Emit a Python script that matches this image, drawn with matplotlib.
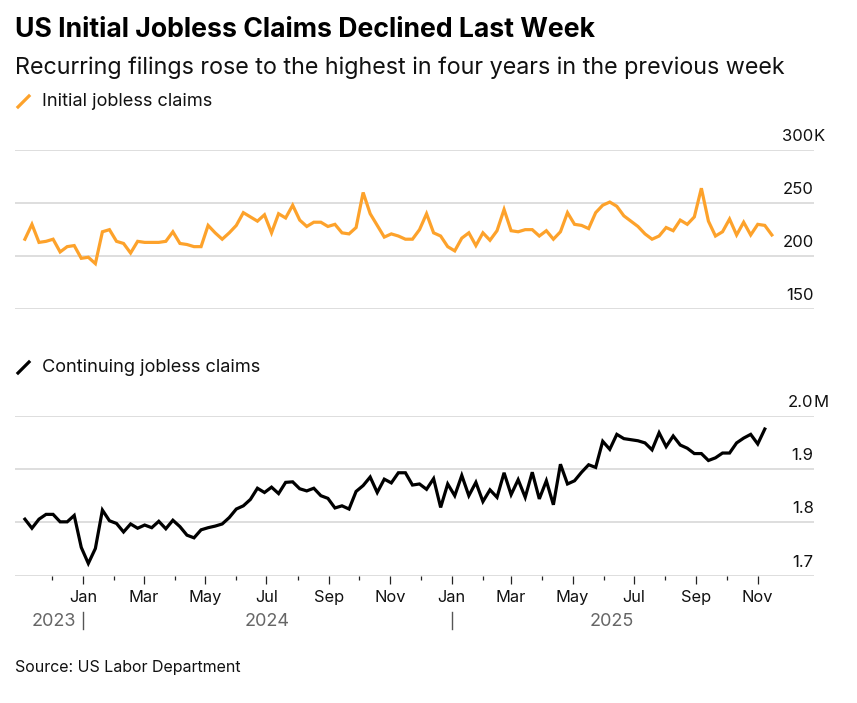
import matplotlib
matplotlib.use("Agg")
import matplotlib.pyplot as plt
import matplotlib.transforms as mtransforms
from matplotlib.lines import Line2D
import pandas as pd

plt.rcParams["font.family"] = ["Inter", "DejaVu Sans"]

# weekly data, week ending Saturday, starting 2023-11-04
initial_claims = [
    216, 230, 213, 214, 216, 204, 209, 210, 198, 199,
    193, 223, 225, 214, 212, 203, 214, 213, 213, 213,
    214, 223, 212, 211, 209, 209, 229, 222, 216, 222,
    229, 241, 237, 233, 239, 222, 240, 236, 248, 234,
    228, 232, 232, 228, 230, 222, 221, 227, 260, 240,
    229, 218, 221, 219, 216, 216, 225, 240, 222, 219,
    209, 205, 217, 222, 210, 222, 215, 224, 244, 224,
    223, 225, 225, 219, 224, 216, 223, 241, 230, 229,
    226, 241, 248, 251, 247, 238, 233, 228, 221, 216,
    219, 227, 224, 234, 230, 237, 264, 233, 219, 223,
    235, 220, 232, 220, 230, 229, 220,
]  # thousands

continuing_claims = [
    1806, 1789, 1806, 1815, 1815, 1801, 1801, 1813, 1753, 1723,
    1751, 1823, 1803, 1798, 1782, 1797, 1789, 1795, 1790, 1802,
    1788, 1804, 1792, 1776, 1771, 1786, 1790, 1793, 1797, 1809,
    1825, 1831, 1843, 1864, 1856, 1866, 1854, 1875, 1876, 1863,
    1859, 1864, 1850, 1845, 1827, 1831, 1825, 1858, 1869, 1885,
    1856, 1881, 1874, 1893, 1893, 1870, 1872, 1862, 1882, 1828,
    1872, 1850, 1888, 1850, 1875, 1839, 1861, 1847, 1893, 1852,
    1880, 1847, 1894, 1844, 1878, 1833, 1909, 1872, 1878, 1894,
    1908, 1903, 1952, 1937, 1965, 1957, 1955, 1953, 1949, 1936,
    1968, 1942, 1962, 1945, 1939, 1929, 1929, 1916, 1921, 1930,
    1930, 1949, 1958, 1965, 1947, 1975,
]  # thousands

initial_dates = pd.date_range("2023-11-04", periods=len(initial_claims), freq="7D")
continuing_dates = pd.date_range("2023-11-04", periods=len(continuing_claims), freq="7D")

initial_ticks = [150, 200, 250, 300]
initial_tick_labels = ["150", "200", "250", "300"]
continuing_ticks = [1700, 1800, 1900, 2000]
continuing_tick_labels = ["1.7", "1.8", "1.9", "2.0"]

ORANGE = "#fda22b"
GRID = "#d4d4d4"
W, H = 857, 703


def fx(x):
    return x / W


def fy(y):
    return 1 - y / H


fig = plt.figure(figsize=(W / 100, H / 100), dpi=100)

xmin = pd.Timestamp("2023-10-25 04:00")
xmax = pd.Timestamp("2025-12-26 14:00")

ax1 = fig.add_axes([fx(15), fy(309.3), fx(813.7 - 15), (309.3 - 150) / H])
ax2 = fig.add_axes([fx(15), fy(575.7), fx(813.7 - 15), (575.7 - 415.7) / H])

for ax, ticks in ((ax1, initial_ticks), (ax2, continuing_ticks)):
    ax.set_xlim(xmin, xmax)
    ax.set_ylim(ticks[0], ticks[-1])
    for s in ax.spines.values():
        s.set_visible(False)
    for t in ticks:
        ax.axhline(t, color=GRID, lw=1.1, zorder=1)
    ax.set_yticks([])

ax1.set_xticks([])
ax1.plot(initial_dates, initial_claims, color=ORANGE, lw=2.3, zorder=3,
         solid_joinstyle="miter")
ax2.plot(continuing_dates, continuing_claims, color="black", lw=2.3, zorder=3,
         solid_joinstyle="miter")

# y labels sit above the gridlines at the right end
for ax, ticks, labels, suffix in ((ax1, initial_ticks, initial_tick_labels, "K"),
                                  (ax2, continuing_ticks, continuing_tick_labels, "M")):
    for i, (t, lab) in enumerate(zip(ticks, labels)):
        ax.annotate(lab, xy=(1, t), xycoords=("axes fraction", "data"),
                    xytext=(0, 6.5), textcoords="offset points",
                    ha="right", va="baseline", fontsize=12, color="#111111",
                    annotation_clip=False)
        if i == len(ticks) - 1:
            ax.annotate(suffix, xy=(1, t), xycoords=("axes fraction", "data"),
                        xytext=(0, 6.5), textcoords="offset points",
                        ha="left", va="baseline", fontsize=12, color="#111111",
                        annotation_clip=False)

# x axis: major ticks at odd months with labels, minor at even months
months = pd.date_range("2023-12-01", "2025-11-01", freq="MS")
major = [m for m in months if m.month % 2 == 1]
minor = [m for m in months if m.month % 2 == 0]
ax2.set_xticks(major)
ax2.set_xticklabels([m.strftime("%b") for m in major])
ax2.set_xticks(minor, minor=True)
ax2.tick_params(axis="x", which="major", length=6, width=0.9, color="#222222",
                labelsize=11.8, pad=4, labelcolor="#111111")
ax2.tick_params(axis="x", which="minor", length=3, width=0.9, color="#222222")

# year labels
trans = mtransforms.blended_transform_factory(ax2.transData, ax2.transAxes)
y_year = (575.7 - 625.5) / 160
first = initial_dates[0]
jan24 = pd.Timestamp("2024-01-01")
jan25 = pd.Timestamp("2025-01-01")
last = initial_dates[-1]
year_spans = [(first, jan24, "2023"), (jan24, jan25, "2024"), (jan25, last, "2025")]
for a, b, lab in year_spans:
    mid = a + (b - a) / 2
    ax2.text(mid, y_year, lab, transform=trans, ha="center", va="baseline",
             fontsize=13, color="#666666")
for d in (jan24, jan25):
    ax2.plot([d, d], [(575.7 - 611.5) / 160, (575.7 - 628.5) / 160],
             transform=trans, color="#555555", lw=1.0, clip_on=False)

# titles
fig.text(fx(15), fy(37), "US Initial Jobless Claims Declined Last Week",
         fontsize=19.2, fontweight="bold", ha="left", va="baseline", color="#000000")
fig.text(fx(15), fy(74), "Recurring filings rose to the highest in four years in the previous week",
         fontsize=16.8, ha="left", va="baseline", color="#111111")

# legends
fig.add_artist(Line2D([fx(18), fx(29)], [fy(107), fy(96)], color=ORANGE, lw=2.3))
fig.text(fx(42), fy(106), "Initial jobless claims", fontsize=13.1, ha="left",
         va="baseline", color="#111111")
fig.add_artist(Line2D([fx(18), fx(29)], [fy(373), fy(362)], color="black", lw=2.3))
fig.text(fx(42), fy(372), "Continuing jobless claims", fontsize=13.1, ha="left",
         va="baseline", color="#111111")

fig.text(fx(15), fy(672), "Source: US Labor Department", fontsize=11.5, ha="left",
         va="baseline", color="#111111")

fig.savefig("out.png", dpi=100)
